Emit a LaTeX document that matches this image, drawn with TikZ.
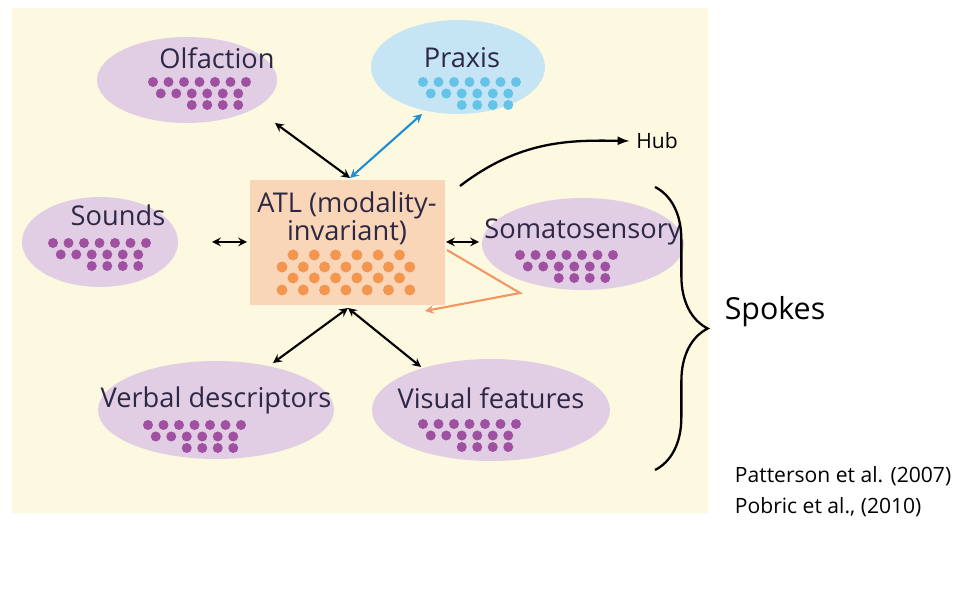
\documentclass[tikz,border=0pt]{standalone}
\usepackage{fontspec}
\setmainfont{Open Sans}
\usetikzlibrary{decorations.pathreplacing}
\definecolor{bgcream}{RGB}{253,249,225}
\definecolor{spokefill}{RGB}{226,206,228}
\definecolor{praxisfill}{RGB}{197,229,245}
\definecolor{atlfill}{RGB}{250,214,184}
\definecolor{spokedot}{RGB}{160,80,160}
\definecolor{praxisdot}{RGB}{100,195,230}
\definecolor{atldot}{RGB}{242,150,80}
\definecolor{txtdark}{RGB}{45,40,70}
\definecolor{arrowblue}{RGB}{30,140,210}
\definecolor{looporange}{RGB}{242,150,100}
% dot pattern: x0, y0, colour
\newcommand{\dotrows}[3]{%
  \foreach \i in {0,...,6} \fill[#3] (#1+\i*15.5,#2) circle (5);
  \foreach \i in {0,...,5} \fill[#3] (#1+7.75+\i*15.5,#2+11.5) circle (5);
  \foreach \i in {0,...,3} \fill[#3] (#1+38.75+\i*15.5,#2+23) circle (5);
}

\begin{document}
\begin{tikzpicture}[x=0.02cm,y=-0.02cm,line width=1.2pt]
          \tikzstyle{every node}=[font=\fontsize{15.5}{18}\selectfont,text=txtdark]
          \useasboundingbox (0,0) rectangle (971,590);
            \fill[bgcream] (12,8) rectangle (708,513);

            \fill[spokefill] (187,80) ellipse (90 and 43);
            \fill[praxisfill] (458,67) ellipse (87 and 47);
            \fill[spokefill] (100,242) ellipse (78 and 45);
            \fill[spokefill] (583,244) ellipse (101 and 46);
            \fill[spokefill] (216,410) ellipse (118 and 49);
            \fill[spokefill] (491,410) ellipse (119 and 51);
            \fill[atlfill] (250,180) rectangle (445,305);

            \node (olf) at (217,58) {Olfaction};
            \node (prx) at (462,58) {Praxis};
            \node (snd) at (118,215) {Sounds};
            \node (som) at (583,232) {Somatosensory};
            \node (vrb) at (216,400) {Verbal descriptors};
            \node (vis) at (491,398) {Visual features};
            \node[align=center] (atl) at (347,218) {ATL (modality-\\[-2pt]invariant)};

            \dotrows{153}{82}{spokedot}
            \dotrows{423}{82}{praxisdot}
            \dotrows{53}{243}{spokedot}
            \dotrows{520}{255}{spokedot}
            \dotrows{148}{425}{spokedot}
            \dotrows{423}{424}{spokedot}
            \foreach \i in {0,...,5} \fill[atldot] (293+\i*21.3,255) circle (5.5);
            \foreach \i in {0,...,6} \fill[atldot] (282+\i*21.3,267) circle (5.5);
            \foreach \i in {0,...,5} \fill[atldot] (293+\i*21.3,278) circle (5.5);
            \foreach \i in {0,...,6} \fill[atldot] (282+\i*21.3,290) circle (5.5);

            \coordinate (top) at (350,178);
            \coordinate (bot) at (348,308);
            \coordinate (oe) at (275,123);
            \coordinate (pe) at (422,114);
            \coordinate (se) at (212,242);
            \coordinate (sl) at (247,242);
            \coordinate (ml) at (446,242);
            \coordinate (me) at (479,242);
            \coordinate (ve) at (273,363);
            \coordinate (fe) at (421,367);

            \draw[<->,>=stealth] (oe) -- (top);
            \draw[<->,>=stealth,arrowblue] (pe) -- (top);
            \draw[<->,>=stealth] (se) -- (sl);
            \draw[<->,>=stealth] (ml) -- (me);
            \draw[<->,>=stealth] (ve) -- (bot);
            \draw[<->,>=stealth] (fe) -- (bot);

            \coordinate (ls) at (447,250);
            \coordinate (lc) at (520,293);
            \coordinate (le) at (425,311);
            \draw[->,>=stealth,looporange] (ls) -- (lc) -- (le);

            \node[font=\large,text=black] (hub) at (657,141) {Hub};
            \coordinate (hs) at (460,186);
            \draw[->,>=latex,black,line width=1.3pt] (hs) .. controls (520,140) and (570,140) .. (hub.west);
            \coordinate (bra) at (655,187);
            \coordinate (brb) at (655,470);
            \draw[decorate,decoration={brace,amplitude=30pt},black,line width=1.3pt] (bra) -- (brb);
            \node[font=\LARGE,text=black] (spk) at (775,312) {Spokes};
            \node[font=\large,text=black,anchor=west] (pat) at (728,476) {Patterson et al. (2007)};
            \node[font=\large,text=black,anchor=west] (pob) at (728,507) {Pobric et al., (2010)};
        \end{tikzpicture}
\end{document}
